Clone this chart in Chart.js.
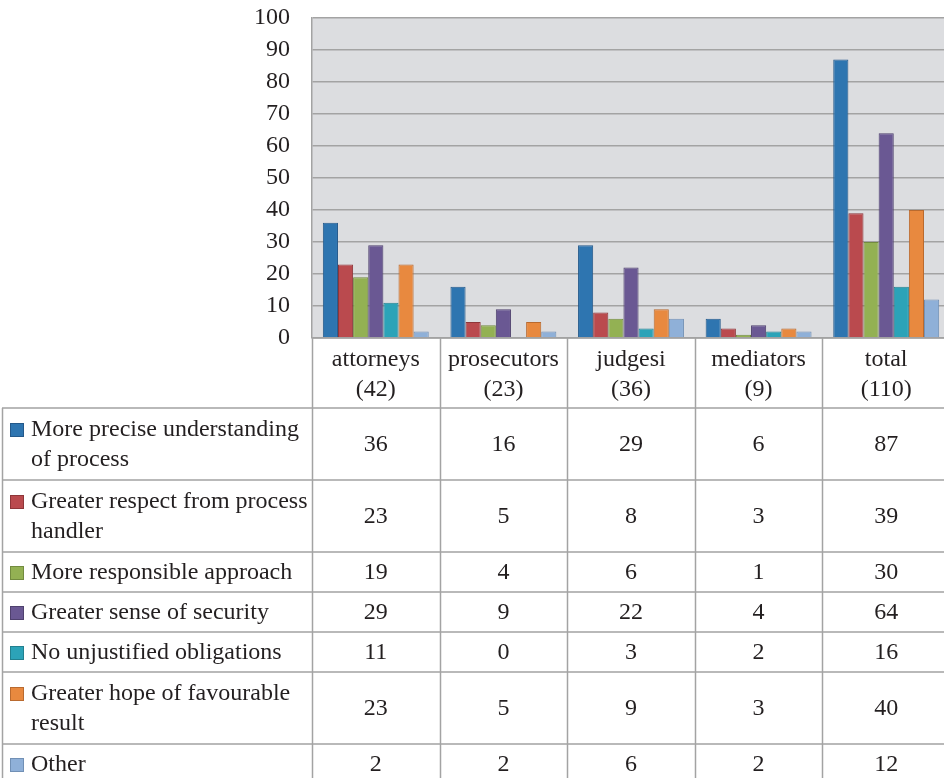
<!DOCTYPE html>
<html><head><meta charset="utf-8">
<script src="https://cdn.jsdelivr.net/npm/chart.js@4/dist/chart.umd.min.js"></script>
<style>
html,body{margin:0;padding:0;background:#fff;overflow:hidden;width:944px;height:778px}
canvas{display:block}
</style>
</head><body>
<canvas id="c" width="952" height="778"></canvas>
<script>
// ---- data ----
const categories = [["attorneys","(42)"],["prosecutors","(23)"],["judgesi","(36)"],["mediators","(9)"],["total","(110)"]];
const seriesNames = [
  ["More precise understanding","of process"],
  ["Greater respect from process","handler"],
  ["More responsible approach"],
  ["Greater sense of security"],
  ["No unjustified obligations"],
  ["Greater hope of favourable","result"],
  ["Other"]
];
const preciseUnderstanding = [36,16,29,6,87];
const greaterRespect       = [23,5,8,3,39];
const responsibleApproach  = [19,4,6,1,30];
const senseOfSecurity      = [29,9,22,4,64];
const noUnjustified        = [11,0,3,2,16];
const favourableResult     = [23,5,9,3,40];
const other                = [2,2,6,2,12];
const yMin = 0, yMax = 100, yStep = 10;

const seriesValues = [preciseUnderstanding,greaterRespect,responsibleApproach,senseOfSecurity,noUnjustified,favourableResult,other];

// ---- styles ----
const fills   = ['#2E75B0','#BA4A4E','#93B153','#6A5893','#2CA3B8','#E8893F','#8FB0D8'];
const borders = ['#24598A','#8E3639','#728B3F','#4F416E','#22808F','#B96A2F','#7190B5'];
const gridColor = '#A3A3A3';
const textColor = '#231F20';
const FONT = '"Liberation Serif", "Times New Roman", serif';

Chart.defaults.font.family = FONT;
Chart.defaults.color = textColor;

const plotBg = {
  id:'plotBg',
  beforeDraw(chart){
    const {ctx, chartArea:a} = chart;
    ctx.save();
    ctx.fillStyle = '#DCDDE0';
    ctx.fillRect(a.left, a.top, a.right-a.left, a.bottom-a.top);
    ctx.restore();
  }
};

const dataTable = {
  id:'dataTable',
  afterDraw(chart){
    const {ctx, chartArea:a, scales} = chart;
    const xs = scales.x;
    const n = categories.length;
    const colW = (a.right - a.left)/n;
    const labelTop = a.bottom, labelH = 70;
    const rowHeights = seriesNames.map(l => 8 + 32*l.length);
    let rowTops = [];
    let y = labelTop + labelH;
    rowHeights.forEach(h => { rowTops.push(y); y += h; });
    const tableBottom = y;
    ctx.save();
    ctx.strokeStyle = gridColor;
    ctx.lineWidth = 1.5;
    ctx.beginPath();
    for (let i=0;i<=n;i++){
      const x = Math.round(a.left + i*colW) + 0.5;
      ctx.moveTo(x, labelTop); ctx.lineTo(x, tableBottom);
    }
    ctx.moveTo(2.5, labelTop+labelH); ctx.lineTo(2.5, tableBottom);
    ctx.moveTo(a.left, labelTop); ctx.lineTo(chart.width, labelTop);
    rowTops.forEach(t => { ctx.moveTo(2, t); ctx.lineTo(chart.width, t); });
    ctx.moveTo(2, tableBottom); ctx.lineTo(chart.width, tableBottom);
    ctx.stroke();

    ctx.fillStyle = textColor;
    ctx.font = '24px ' + FONT;
    ctx.textBaseline = 'middle';
    ctx.textAlign = 'center';
    categories.forEach((c,i) => {
      const cx = xs.getPixelForValue(i);
      ctx.fillText(c[0], cx, labelTop + 22);
      ctx.fillText(c[1], cx, labelTop + 52);
    });
    seriesNames.forEach((lines, r) => {
      const top = rowTops[r], h = rowHeights[r];
      const firstY = lines.length > 1 ? top + 22 : top + h/2 + 1;
      ctx.fillStyle = fills[r];
      ctx.fillRect(10, firstY - 7, 14, 14);
      ctx.strokeStyle = borders[r]; ctx.lineWidth = 1;
      ctx.strokeRect(10.5, firstY - 6.5, 13, 13);
      ctx.fillStyle = textColor;
      ctx.textAlign = 'left';
      lines.forEach((ln, k) => ctx.fillText(ln, 31, firstY + k*30));
      ctx.textAlign = 'center';
      seriesValues[r].forEach((v,i) => {
        ctx.fillText(String(v), xs.getPixelForValue(i), top + h/2 + 1);
      });
    });
    ctx.restore();
  }
};

new Chart(document.getElementById('c'), {
  type:'bar',
  data:{
    labels: categories.map(c => c.join(' ')),
    datasets: seriesNames.map((nm,i) => ({
      label: nm.join(' '),
      data: seriesValues[i],
      backgroundColor: fills[i],
      borderColor: borders[i],
      borderWidth: 1,
      categoryPercentage: 0.83,
      barPercentage: 1.0
    }))
  },
  options:{
    responsive:false,
    animation:false,
    devicePixelRatio:1,
    layout:{padding:{top:18,right:2,bottom:440,left:0}},
    plugins:{legend:{display:false},tooltip:{enabled:false}},
    scales:{
      x:{display:false},
      y:{
        min:yMin,max:yMax,
        afterFit(s){ s.width = 312; s.paddingTop = 0; s.paddingBottom = 0; },
        ticks:{stepSize:yStep,padding:22,color:textColor,font:{size:24,family:FONT}},
        grid:{color:gridColor,lineWidth:1.5,drawTicks:false},
        border:{display:true,color:gridColor,width:1.5}
      }
    }
  },
  plugins:[plotBg,dataTable]
});
</script>
</body></html>
